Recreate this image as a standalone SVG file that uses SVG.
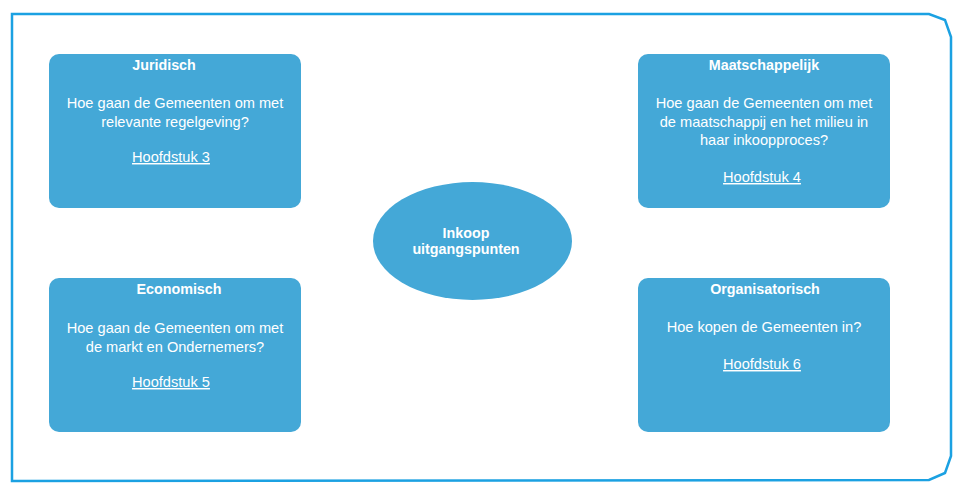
<svg xmlns="http://www.w3.org/2000/svg" width="969" height="487" viewBox="0 0 969 487">
<style>
.box{fill:#44A8D7;}
.t{font-family:"Liberation Sans",Arial,sans-serif;fill:#ffffff;text-anchor:middle;}
.h{font-size:14.3px;font-weight:bold;}
.b{font-size:14.6px;}
.u{font-size:14.6px;text-decoration:underline;}
</style>
<rect width="969" height="487" fill="#ffffff"/>
<path d="M12,14 L929,14 L945,20 L951,37 L951,456 L945,473 L929,480 L12,481 Z" fill="none" stroke="#1BA1E2" stroke-width="2.5"/>
<g id="juridisch">
<rect class="box" x="49" y="54" width="252" height="154" rx="10"/>
<text class="t h" x="164" y="70">Juridisch</text>
<text class="t b" x="175" y="108">Hoe gaan de Gemeenten om met</text>
<text class="t b" x="175" y="127">relevante regelgeving?</text>
<text class="t u" x="171" y="162">Hoofdstuk 3</text>
</g>
<g id="maatschappelijk">
<rect class="box" x="638" y="54" width="252" height="154" rx="10"/>
<text class="t h" x="764" y="70">Maatschappelijk</text>
<text class="t b" x="764" y="108">Hoe gaan de Gemeenten om met</text>
<text class="t b" x="764" y="127">de maatschappij en het milieu in</text>
<text class="t b" x="764" y="145">haar inkoopproces?</text>
<text class="t u" x="762" y="182">Hoofdstuk 4</text>
</g>
<g id="economisch">
<rect class="box" x="49" y="278" width="252" height="154" rx="10"/>
<text class="t h" x="179" y="294">Economisch</text>
<text class="t b" x="175" y="333">Hoe gaan de Gemeenten om met</text>
<text class="t b" x="175" y="352">de markt en Ondernemers?</text>
<text class="t u" x="171" y="387">Hoofdstuk 5</text>
</g>
<g id="organisatorisch">
<rect class="box" x="638" y="278" width="252" height="154" rx="10"/>
<text class="t h" x="765" y="294">Organisatorisch</text>
<text class="t b" x="764" y="332">Hoe kopen de Gemeenten in?</text>
<text class="t u" x="762" y="369">Hoofdstuk 6</text>
</g>
<g id="center">
<ellipse class="box" cx="472.5" cy="241" rx="99.5" ry="59"/>
<text class="t h" x="466" y="238">Inkoop</text>
<text class="t h" x="466" y="254">uitgangspunten</text>
</g>
<g id="connectors"></g>
</svg>
